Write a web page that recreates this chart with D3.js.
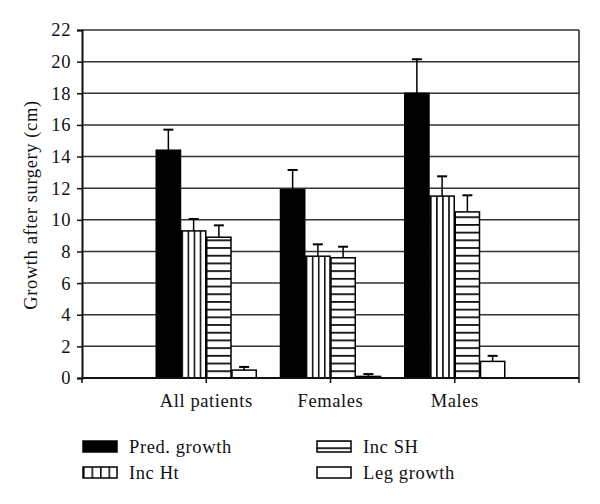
<!DOCTYPE html>
<html><head><meta charset="utf-8">
<script src="https://cdn.jsdelivr.net/npm/d3@7"></script>
<style>body{margin:0;background:#fff}svg{display:block}svg text{font-family:"Liberation Serif","Times New Roman","DejaVu Serif",serif !important;fill:#111;letter-spacing:0.6px}</style>
</head><body><svg id="c" width="600" height="504"></svg>
<script>
const categories = ["All patients", "Females", "Males"];
const seriesNames = ["Pred. growth", "Inc Ht", "Inc SH", "Leg growth"];
const predGrowth = [14.4, 11.9, 18.0];
const incHt = [9.3, 7.7, 11.5];
const incSH = [8.9, 7.6, 10.5];
const legGrowth = [0.5, 0.1, 1.05];
const predErr = [15.7, 13.15, 20.15];
const incHtErr = [10.05, 8.45, 12.75];
const incSHErr = [9.65, 8.3, 11.55];
const legErr = [0.7, 0.25, 1.4];
const yTicks = [0, 2, 4, 6, 8, 10, 12, 14, 16, 18, 20, 22];

const values = [predGrowth, incHt, incSH, legGrowth];
const errs = [predErr, incHtErr, incSHErr, legErr];
const fills = ["#000", "url(#vstripe)", "url(#hstripe)", "#fff"];

const svg = d3.select("#c");
const L = 82, R = 579, T = 30, B = 378;
const FONT = '"Liberation Serif","Times New Roman","DejaVu Serif",serif';
const FS = 18.5;

const defs = svg.append("defs");
const pv = defs.append("pattern").attr("id", "vstripe").attr("patternUnits", "objectBoundingBox")
  .attr("width", 0.25).attr("height", 1);
pv.append("rect").attr("width", 100).attr("height", 2000).attr("fill", "#fff");
pv.append("rect").attr("x", 0).attr("width", 1.6).attr("height", 2000).attr("fill", "#111");
const ph = defs.append("pattern").attr("id", "hstripe").attr("patternUnits", "userSpaceOnUse")
  .attr("width", 10).attr("height", 7.7).attr("y", B);
ph.append("rect").attr("width", 10).attr("height", 7.7).attr("fill", "#fff");
ph.append("rect").attr("y", 0).attr("width", 10).attr("height", 1.8).attr("fill", "#111");

const y = d3.scaleLinear().domain([0, 22]).range([B, T]);
const x0 = d3.scaleBand().domain(categories).range([L, R]).paddingInner(0).paddingOuter(0.5);
const x1 = d3.scaleBand().domain(seriesNames).range([0, x0.bandwidth()]).paddingInner(0.04).paddingOuter(0.48);

// gridlines
svg.append("g").selectAll("line").data(yTicks.filter(d => d > 0)).join("line")
  .attr("x1", L).attr("x2", R).attr("y1", d => y(d)).attr("y2", d => y(d))
  .attr("stroke", "#333").attr("stroke-width", 1.5);
// right border
svg.append("line").attr("x1", R).attr("x2", R).attr("y1", T).attr("y2", B).attr("stroke", "#222").attr("stroke-width", 1.5);

// y axis
const yAxis = d3.axisLeft(y).tickValues(yTicks).tickSize(5).tickPadding(6).tickFormat(d3.format("d"));
const ya = svg.append("g").attr("transform", `translate(${L},0)`).call(yAxis);
ya.attr("font-family", FONT).attr("font-size", FS);
ya.select(".domain").attr("stroke", "#111").attr("stroke-width", 2);
ya.selectAll(".tick line").attr("stroke", "#111").attr("stroke-width", 1.5);
ya.selectAll(".tick text").attr("fill", "#111");

// bars
const g = svg.append("g");
seriesNames.forEach((s, si) => {
  g.append("g").selectAll("rect").data(categories).join("rect")
    .attr("x", c => x0(c) + x1(s)).attr("width", x1.bandwidth())
    .attr("y", (c, i) => y(values[si][i])).attr("height", (c, i) => B - y(values[si][i]))
    .attr("fill", fills[si]).attr("stroke", "#000").attr("stroke-width", 1.5);
  const eg = g.append("g");
  categories.forEach((c, i) => {
    const cx = x0(c) + x1(s) + x1.bandwidth() / 2;
    eg.append("line").attr("x1", cx).attr("x2", cx).attr("y1", y(values[si][i])).attr("y2", y(errs[si][i]))
      .attr("stroke", "#000").attr("stroke-width", 1.5);
    eg.append("line").attr("x1", cx - 5).attr("x2", cx + 5).attr("y1", y(errs[si][i])).attr("y2", y(errs[si][i]))
      .attr("stroke", "#000").attr("stroke-width", 2);
  });
});

// x axis
svg.append("line").attr("x1", L).attr("x2", R).attr("y1", B).attr("y2", B).attr("stroke", "#111").attr("stroke-width", 2);
const tickXs = [L].concat(categories.map(c => x0(c) + x0.bandwidth() / 2)).concat([R]);
svg.append("g").selectAll("line").data(tickXs).join("line")
  .attr("x1", d => d).attr("x2", d => d).attr("y1", B).attr("y2", B + 5).attr("stroke", "#111").attr("stroke-width", 1.5);
svg.append("g").selectAll("text").data(categories).join("text")
  .attr("x", c => x0(c) + x0.bandwidth() / 2).attr("y", 407).attr("text-anchor", "middle")
  .attr("font-family", FONT).attr("font-size", FS).text(c => c);

// y title
svg.append("text").attr("transform", "translate(37,205) rotate(-90)").attr("text-anchor", "middle")
  .attr("font-family", FONT).attr("font-size", FS).text("Growth after surgery (cm)");

// legend
const legPos = [[83, 441], [83, 467], [317, 441], [317, 467]];
seriesNames.forEach((s, i) => {
  const [lx, ly] = legPos[i];
  svg.append("rect").attr("x", lx).attr("y", ly).attr("width", 34).attr("height", 11)
    .attr("fill", fills[i]).attr("stroke", "#000").attr("stroke-width", 1.5);
  svg.append("text").attr("x", lx + 46).attr("y", ly + 11.5).attr("font-family", FONT).attr("font-size", FS).text(s);
});
</script></body></html>
